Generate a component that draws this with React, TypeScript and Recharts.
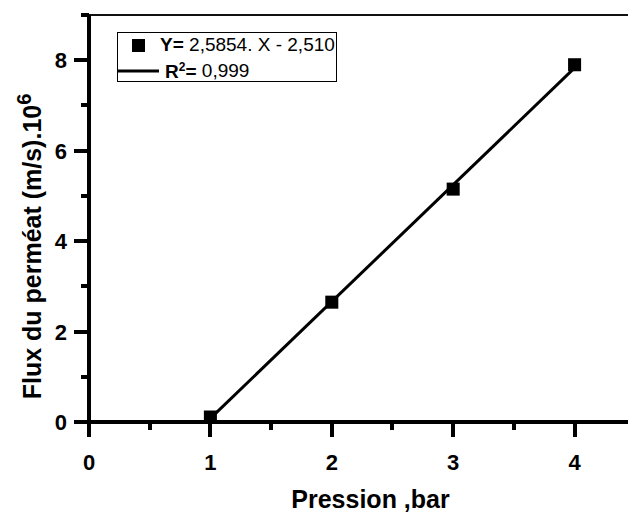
import React from "react";
import {
  ComposedChart,
  Line,
  Scatter,
  XAxis,
  YAxis,
  ZAxis,
  Legend,
  ReferenceLine,
} from "recharts";

// measured points
const pressure = [1, 2, 3, 4];
const flux = [0.11, 2.65, 5.15, 7.9];

// linear fit drawn between first and last pressure
const fitPressure = [1, 4];
const fitFlux = [0.08, 7.83];

const xTicks = [0, 0.5, 1, 1.5, 2, 2.5, 3, 3.5, 4];
const yTicks = [0, 1, 2, 3, 4, 5, 6, 7, 8, 9];

const points = pressure.map((p, i) => ({ x: p, y: flux[i] }));
const fitLine = fitPressure.map((p, i) => ({ x: p, fit: fitFlux[i] }));

const FONT = "'Liberation Sans', Arial, sans-serif";
const TICK = 14;

const XTick = (props: any) => {
  const { x, y, payload } = props;
  const axisY = y - TICK;
  const v = payload.value;
  const major = Number.isInteger(v);
  const px = Math.round(x);
  return (
    <g>
      <line x1={px} x2={px} y1={axisY} y2={axisY + (major ? 15 : 8)} stroke="#000" strokeWidth={4} />
      {major && (
        <text x={x} y={axisY + 48} textAnchor="middle" fontFamily={FONT} fontWeight="bold" fontSize={22} fill="#000">
          {v}
        </text>
      )}
    </g>
  );
};

const YTick = (props: any) => {
  const { x, y, payload } = props;
  const axisX = x + TICK;
  const v = payload.value;
  const major = v % 2 === 0 && v <= 8;
  const py = Math.round(y);
  return (
    <g>
      <line x1={axisX - (major ? 15 : 8)} x2={axisX} y1={py} y2={py} stroke="#000" strokeWidth={4} />
      {major && (
        <text x={axisX - 22} y={y + 8} textAnchor="end" fontFamily={FONT} fontWeight="bold" fontSize={22} fill="#000">
          {v}
        </text>
      )}
    </g>
  );
};

const YLabel = (props: any) => {
  const vb = props.viewBox;
  const cx = vb.x + 41;
  const cy = vb.y + vb.height / 2 + 28;
  return (
    <text
      x={cx}
      y={cy}
      transform={`rotate(-90, ${cx}, ${cy})`}
      textAnchor="middle"
      fontFamily={FONT}
      fontWeight="bold"
      fontSize={25}
      fill="#000"
    >
      Flux du perméat (m/s).10
      <tspan dy={-10} fontSize={20}>6</tspan>
    </text>
  );
};

const XLabel = (props: any) => {
  const vb = props.viewBox;
  return (
    <text
      x={vb.x + vb.width / 2 + 12}
      y={vb.y + 86}
      textAnchor="middle"
      fontFamily={FONT}
      fontWeight="bold"
      fontSize={25}
      fill="#000"
    >
      Pression ,bar
    </text>
  );
};

const LegendBox = () => (
  <div
    style={{
      border: "1px solid #000",
      background: "#fff",
      width: 220,
      height: 50,
      boxSizing: "border-box",
      fontFamily: FONT,
      fontSize: 19,
      color: "#000",
      lineHeight: "24px",
    }}
  >
    <div style={{ display: "flex", alignItems: "center", height: 24 }}>
      <svg width={42} height={24}>
        <rect x={14} y={6} width={13} height={13} fill="#000" />
      </svg>
      <span style={{ whiteSpace: "nowrap" }}>
        <b>Y=</b> 2,5854. X - 2,510
      </span>
    </div>
    <div style={{ display: "flex", alignItems: "center", height: 24 }}>
      <svg width={47} height={24}>
        <line x1={0} x2={41} y1={14} y2={14} stroke="#000" strokeWidth={3} />
      </svg>
      <span style={{ whiteSpace: "nowrap" }}>
        <b>
          R<sup style={{ fontSize: 12 }}>2</sup>=
        </b>{" "}
        0,999
      </span>
    </div>
  </div>
);

export default function App() {
  return (
    <div style={{ position: "absolute", left: 0, top: 0, background: "#fff" }}>
      <ComposedChart width={628} height={513} margin={{ top: 15, right: 0, bottom: 0, left: 0 }}>
        <ReferenceLine y={9} stroke="#111" strokeWidth={2} />
        <XAxis
          dataKey="x"
          type="number"
          domain={[0, 4.44]}
          ticks={xTicks}
          allowDataOverflow
          height={91}
          tickSize={TICK}
          tickMargin={0}
          tickLine={false}
          tick={<XTick />}
          axisLine={{ stroke: "#000", strokeWidth: 4 }}
          label={<XLabel />}
        />
        <YAxis
          type="number"
          domain={[0, 9]}
          ticks={yTicks}
          width={89}
          tickSize={TICK}
          tickMargin={0}
          tickLine={false}
          tick={<YTick />}
          axisLine={{ stroke: "#000", strokeWidth: 4 }}
          label={<YLabel />}
        />
        <ZAxis range={[170, 170]} />
        <Line
          data={fitLine}
          dataKey="fit"
          type="linear"
          stroke="#000"
          strokeWidth={3}
          dot={false}
          isAnimationActive={false}
          legendType="none"
        />
        <Scatter data={points} dataKey="y" fill="#000" shape="square" isAnimationActive={false} />
        <Legend
          layout="vertical"
          align="center"
          verticalAlign="middle"
          wrapperStyle={{ left: 117, top: 32, width: 220, height: 50 }}
          content={<LegendBox />}
        />
      </ComposedChart>
    </div>
  );
}
